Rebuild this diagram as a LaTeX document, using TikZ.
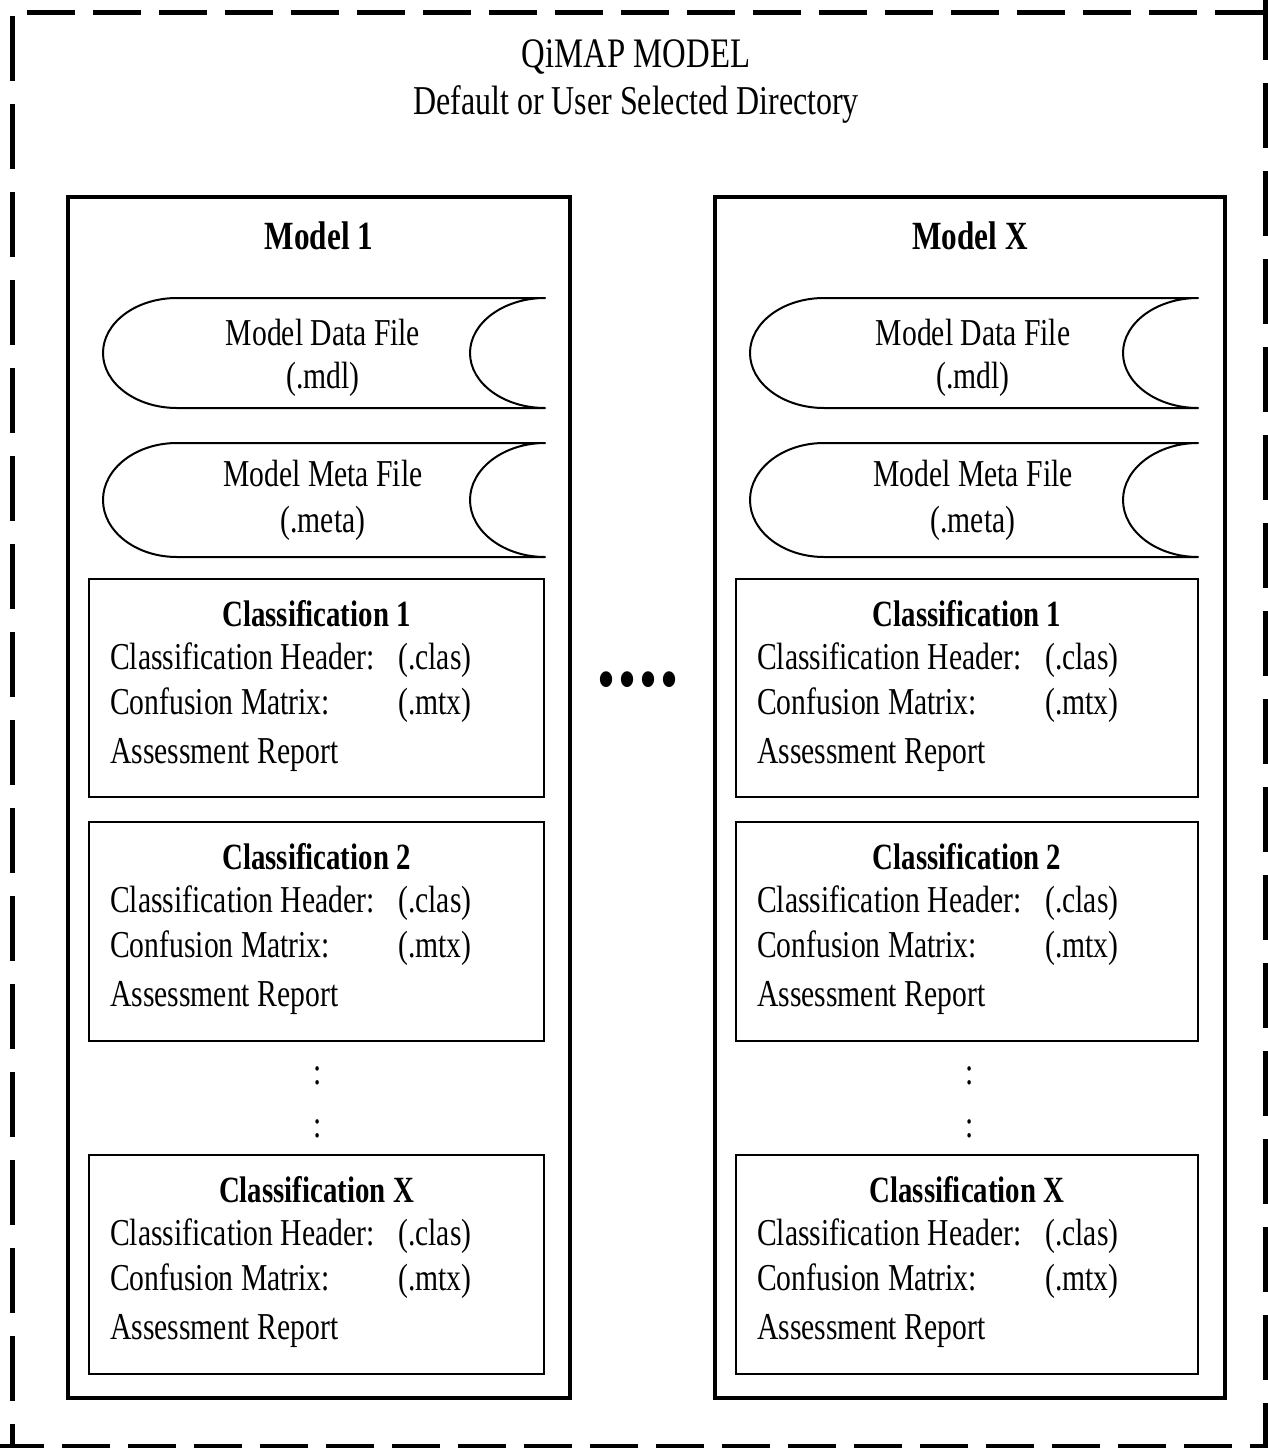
\documentclass[tikz,border=0pt]{standalone}
\usepackage{fontspec}
\setmainfont{Liberation Serif}[FakeStretch=0.78]
\tikzset{
  borderline/.style={line width=5pt},
  modelbox/.style={draw, line width=3.5pt},
  classframe/.style={draw, line width=2pt},
  filepath/.style={draw, line width=2pt, line join=round},
  bodytext/.style={inner sep=0pt, font=\fontsize{38}{44}\selectfont},
  headtext/.style={inner sep=0pt, font=\bfseries\fontsize{37}{44}\selectfont},
  modeltitle/.style={inner sep=0pt, font=\bfseries\fontsize{40}{46}\selectfont},
}
% stored-data shape: #1 name, #2 left tip x, #3 right x, #4 top y, #5 bottom y,
% #6 line 1, #7 line 2, #8 and #9 baseline offsets of the lines from the top
\newcommand\storedfile[9]{%
  \pgfmathsetmacro\sfmid{(#4+#5)/2}%
  \pgfmathsetmacro\sfcy{0.552*(#5-#4)/2}%
  \pgfmathsetmacro\sfla{#2+74}%
  \pgfmathsetmacro\sfra{#3-75}%
  \pgfmathsetmacro\sfctr{(#2+#3)/2-1}%
  \draw[filepath] (\sfla,#4) -- (#3,#4)
     .. controls +(-41,0) and +(0,-\sfcy) .. (\sfra,\sfmid)
     .. controls +(0,\sfcy) and +(-41,0) .. (#3,#5)
     -- (\sfla,#5)
     .. controls +(-41,0) and +(0,\sfcy) .. (#2,\sfmid)
     .. controls +(0,-\sfcy) and +(-41,0) .. (\sfla,#4) -- cycle;
  \node[bodytext, anchor=base] (#1a) at (\sfctr,#4+#8) {#6};
  \node[bodytext, anchor=base] (#1b) at (\sfctr,#4+#9) {#7};
}
% classification box: #1 name, #2 left, #3 right, #4 top, #5 bottom, #6 title
\newcommand\classbox[6]{%
  \draw[classframe] (#2,#4) rectangle (#3,#5);
  \node[headtext, anchor=base] (#1t) at ({(#2+#3)/2},#4+47) {#6};
  \node[bodytext, anchor=base west] (#1h) at (#2+21,#4+90) {Classification Header:};
  \node[bodytext, anchor=base west] (#1hx) at (#2+309,#4+90) {(.clas)};
  \node[bodytext, anchor=base west] (#1c) at (#2+21,#4+135) {Confusion Matrix:};
  \node[bodytext, anchor=base west] (#1cx) at (#2+309,#4+135) {(.mtx)};
  \node[bodytext, anchor=base west] (#1r) at (#2+21,#4+184) {Assessment Report};
}
\begin{document}
\begin{tikzpicture}[x=1pt, y=-1pt]
\useasboundingbox (0,0) rectangle (1267,1448);
\fill[white] (0,0) rectangle (1267,1448);

% outer dashed border
\draw[borderline, dash pattern=on 48pt off 18pt] (27,12.5) -- (1300,12.5);
\draw[borderline, dash pattern=on 48pt off 18pt] (-4,1446) -- (1300,1446);
\draw[borderline, dash pattern=on 65pt off 23pt] (12.5,16) -- (12.5,1470);
\draw[borderline, dash pattern=on 65pt off 23pt] (1265,-5) -- (1265,1470);

% titles
\node[inner sep=0pt, font=\fontsize{42}{46}\selectfont, anchor=base] (title) at (636,67) {QiMAP MODEL};
\node[inner sep=0pt, font=\fontsize{41}{46}\selectfont, anchor=base] (subtitle) at (636,114) {Default or User Selected Directory};

% column 1
\draw[modelbox] (68,197) rectangle (570,1398);
\node[modeltitle, anchor=base] (m1title) at (319,249) {Model 1};
\storedfile{m1data}{103}{545}{298}{408}{Model Data File}{(.mdl)}{47}{90}
\storedfile{m1meta}{103}{545}{443}{557}{Model Meta File}{(.meta)}{43}{89}
\classbox{m1c1}{89}{544}{579}{797}{Classification 1}
\classbox{m1c2}{89}{544}{822}{1041}{Classification 2}
\node[bodytext, anchor=base] (m1cola) at (318,1084) {:};
\node[bodytext, anchor=base] (m1colb) at (318,1137) {:};
\classbox{m1cx}{89}{544}{1155}{1374}{Classification X}

% column X
\draw[modelbox] (715,197) rectangle (1225,1398);
\node[modeltitle, anchor=base] (mxtitle) at (970,249) {Model X};
\storedfile{mxdata}{750}{1198}{298}{408}{Model Data File}{(.mdl)}{47}{90}
\storedfile{mxmeta}{750}{1198}{443}{557}{Model Meta File}{(.meta)}{43}{89}
\classbox{mxc1}{736}{1198}{579}{797}{Classification 1}
\classbox{mxc2}{736}{1198}{822}{1041}{Classification 2}
\node[bodytext, anchor=base] (mxcola) at (970,1084) {:};
\node[bodytext, anchor=base] (mxcolb) at (970,1137) {:};
\classbox{mxcx}{736}{1198}{1155}{1374}{Classification X}

% ellipsis between the models
\node[inner sep=0pt, font=\fontsize{66}{66}\selectfont, anchor=base] (between) at (638,701) {•\kern3pt•\kern3pt•\kern3pt•};
\end{tikzpicture}
\end{document}
